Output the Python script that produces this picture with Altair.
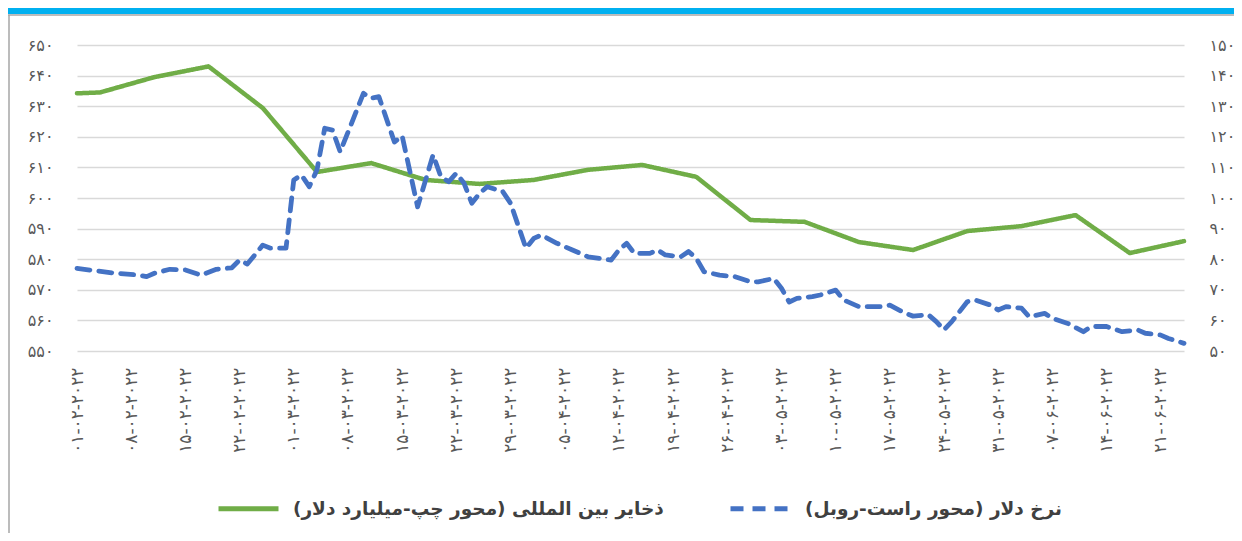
import altair as alt
import pandas as pd
from datetime import date, timedelta

START = date(2022, 2, 1)   # day 0 of the date axis
END_DAY = 143              # 24 Jun 2022

RES_NAME = "ذخایر بین المللی (محور چپ-میلیارد دلار)\u200f"
RATE_NAME = "نرخ دلار (محور راست-روبل)\u200f"

# International reserves (billion USD), weekly, days after 1 Feb 2022
reserve_days = [0, 3, 10, 17, 24, 31, 38, 45, 52, 59, 66, 73, 80, 87, 94,
                101, 108, 115, 122, 129, 136, 143]
reserve_values = [634.2, 634.5, 639.5, 643.0, 629.4, 608.5, 611.4, 605.9, 604.6,
                  605.9, 609.2, 610.8, 606.9, 592.8, 592.2, 585.6, 583.0, 589.2,
                  590.8, 594.4, 582.0, 585.9]

# Dollar rate (rouble), days after 1 Feb 2022
rate_days = [0, 5, 8, 9, 10, 12, 14, 16, 18, 20, 21, 22, 24, 25, 27, 28, 29, 30,
             31, 32, 33, 34, 37, 38, 39, 41, 42, 44, 46, 47, 48, 49, 50, 51, 52,
             53, 55, 56, 58, 59, 60, 62, 64, 66, 69, 70, 71, 72, 74, 75, 76, 78,
             79, 80, 81, 83, 85, 87, 88, 90, 91, 92, 93, 95, 96, 98, 99, 101,
             104, 105, 107, 108, 110, 111, 112, 113, 115, 116, 118, 119, 120,
             122, 123, 125, 126, 128, 130, 131, 133, 135, 137, 138, 140, 141, 143]
rate_values = [77.0, 75.4, 74.8, 74.3, 75.4, 76.7, 76.5, 74.8, 76.7, 77.2, 79.7,
               78.4, 84.6, 83.6, 83.6, 105.9, 107.5, 103.7, 109.2, 122.8, 122.2,
               115.1, 134.2, 132.6, 133.1, 118.3, 120.3, 97.1, 114.1, 107.0, 105.3,
               108.1, 104.8, 98.3, 101.5, 103.7, 102.1, 98.3, 83.6, 86.8, 87.9,
               85.2, 83.0, 80.8, 79.7, 83.0, 85.2, 81.9, 81.9, 83.0, 81.4, 80.8,
               82.5, 80.3, 75.9, 74.8, 74.3, 72.6, 72.6, 73.7, 70.5, 66.0, 67.2,
               67.8, 68.3, 69.9, 66.7, 64.5, 64.5, 65.0, 62.3, 61.4, 61.8, 59.6,
               56.9, 59.6, 66.1, 66.7, 65.0, 63.4, 64.5, 64.0, 61.2, 62.3, 60.7,
               59.0, 56.3, 58.0, 58.0, 56.3, 56.9, 55.8, 55.2, 54.1, 52.5]
assert len(rate_days) == len(rate_values)
assert len(reserve_days) == len(reserve_values)

# x tick labels: weekly from 01-02-2022 to 21-06-2022
tick_days = [0, 7, 14, 21, 28, 35, 42, 49, 56, 63, 70, 77, 84, 91, 98, 105,
             112, 119, 126, 133, 140]
left_ticks = [550, 560, 570, 580, 590, 600, 610, 620, 630, 640, 650]
right_ticks = [50, 60, 70, 80, 90, 100, 110, 120, 130, 140, 150]


def to_date(d):
    return (START + timedelta(days=d)).isoformat()


def to_dt(d):
    x = START + timedelta(days=d)
    return alt.DateTime(year=x.year, month=x.month, date=x.day, utc=True)


res_df = pd.DataFrame({"date": [to_date(d) for d in reserve_days],
                       "value": reserve_values, "series": RES_NAME})
rate_df = pd.DataFrame({"date": [to_date(d) for d in rate_days],
                        "value": rate_values, "series": RATE_NAME})

FA = "۰۱۲۳۴۵۶۷۸۹"


def persian_expr(base):
    e = base
    for i, ch in enumerate(FA):
        e = f"replace({e}, regexp('{i}', 'g'), '{ch}')"
    return e


FONT = "DejaVu Sans"
LABEL_COLOR = "#595959"

x_enc = alt.X(
    "date:T",
    scale=alt.Scale(type="utc", domain=[to_dt(0), to_dt(END_DAY)]),
    axis=alt.Axis(
        values=[to_dt(d) for d in tick_days],
        labelExpr=persian_expr("utcFormat(datum.value, '%d-%m-%Y')"),
        labelAngle=270, labelPadding=16, ticks=False, domain=False, grid=False,
        labelFontSize=17, labelColor=LABEL_COLOR, labelFont=FONT,
        labelOverlap=False, title=None,
    ),
)

color_scale = alt.Scale(domain=[RES_NAME, RATE_NAME], range=["#70AD47", "#4472C4"])
dash_scale = alt.Scale(domain=[RES_NAME, RATE_NAME], range=[[1, 0], [13, 9]])
legend = alt.Legend(
    title=None, orient="none", legendX=139, legendY=431, direction="horizontal",
    symbolType="stroke", symbolSize=3600, symbolStrokeWidth=5,
    labelFontSize=18.5, labelFont=FONT, labelFontWeight="bold",
    labelColor="#404040", labelLimit=0, labelOffset=12, columnPadding=56,
    padding=0,
)

green = alt.Chart(res_df).mark_line(strokeWidth=4.5, strokeCap="round", strokeJoin="round").encode(
    x=x_enc,
    y=alt.Y("value:Q",
            scale=alt.Scale(domain=[550, 650], nice=False, zero=False),
            axis=alt.Axis(orient="left", values=left_ticks,
                          labelExpr=persian_expr("format(datum.value, 'd')"),
                          grid=True, gridColor="#D9D9D9", gridWidth=1.3,
                          domain=False, ticks=False, labelPadding=24,
                          labelFontSize=16, labelFont=FONT, labelColor=LABEL_COLOR,
                          title=None)),
    color=alt.Color("series:N", scale=color_scale, legend=legend),
    strokeDash=alt.StrokeDash("series:N", scale=dash_scale, legend=legend),
)

blue = alt.Chart(rate_df).mark_line(strokeWidth=4.8, strokeCap="round", strokeJoin="round").encode(
    x=x_enc,
    y=alt.Y("value:Q",
            scale=alt.Scale(domain=[50, 150], nice=False, zero=False),
            axis=alt.Axis(orient="right", values=right_ticks,
                          labelExpr=persian_expr("format(datum.value, 'd')"),
                          grid=False, domain=False, ticks=False, labelPadding=25,
                          labelFontSize=16, labelFont=FONT, labelColor=LABEL_COLOR,
                          title=None)),
    color=alt.Color("series:N", scale=color_scale, legend=legend),
    strokeDash=alt.StrokeDash("series:N", scale=dash_scale, legend=legend),
)

one = pd.DataFrame({"k": [0]})
band = alt.Chart(one).mark_rect(color="#00B0F0").encode(
    x=alt.value(-69), x2=alt.value(1157), y=alt.value(-37), y2=alt.value(-31))
top_line = alt.Chart(one).mark_rule(color="#A6A6A6", strokeWidth=1.5).encode(
    x=alt.value(-69), x2=alt.value(1157), y=alt.value(-30))
left_line = alt.Chart(one).mark_rule(color="#A6A6A6", strokeWidth=1.5).encode(
    x=alt.value(-68), y=alt.value(-30), y2=alt.value(488))

chart = alt.layer(band, top_line, left_line, green, blue).resolve_scale(
    y="independent"
).properties(
    width=1107, height=306,
    autosize=alt.AutoSizeParams(type="none"),
    padding={"left": 69, "top": 37, "right": 50, "bottom": 182},
    background="white",
).configure_view(stroke=None)

chart.save("out.html", embed_options={"renderer": "svg", "actions": False})
